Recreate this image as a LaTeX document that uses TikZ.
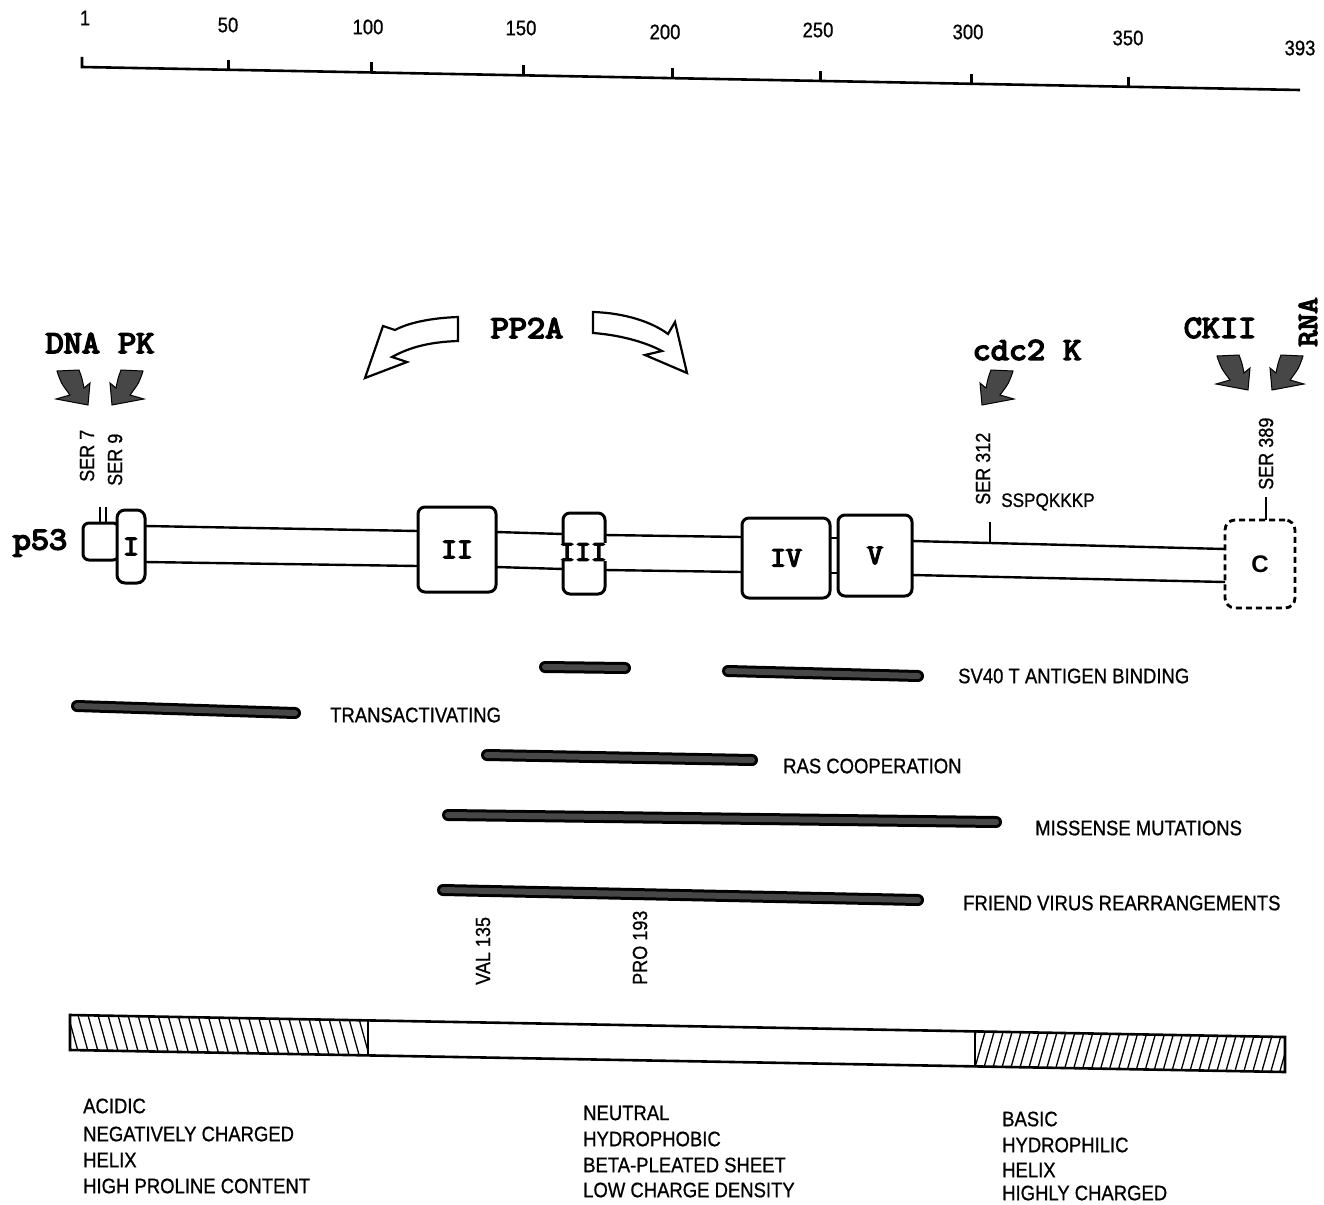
\documentclass[tikz,border=0pt]{standalone}
\usepackage{fontspec}
\setmainfont{Liberation Sans}
\newfontfamily\cond{Liberation Sans}[FakeStretch=0.88, FakeBold=0.8]
\newfontfamily\csfb{Liberation Sans}
\newfontfamily\bmono{Latin Modern Mono}[FakeBold=5, FakeStretch=1.1]
\tikzset{
  lab/.style={font=\cond\fontsize{21}{24}\selectfont, anchor=west, inner sep=0pt},
  vlab/.style={font=\cond\fontsize{20.5}{22}\selectfont, anchor=west, rotate=90, inner sep=0pt},
  scl/.style={font=\cond\fontsize{21}{23}\selectfont, inner sep=0pt},
  big/.style={font=\bmono\fontsize{32}{35}\selectfont, inner sep=0pt},
  dom/.style={draw, line width=3pt, rounded corners=7pt, fill=white, inner sep=0pt,
              font=\bmono\fontsize{28}{30}\selectfont},
  rod/.style={line width=2.4pt},
  barout/.style={line width=12pt, line cap=round, black},
  barin/.style={line width=6pt, line cap=round, black!72},
  hollow/.style={draw, fill=white, line width=2.2pt, line join=miter},
  fatR/.pic={\path[fill=black!72, draw=black, line width=1pt]
     (-31,-34) .. controls (-27,-22) .. (-18,-10) -- (-32,-6) -- (0,0) -- (2,-22)
     -- (-4,-17) .. controls (-6,-27) .. (-9,-35) -- cycle;},
  fatL/.pic={\path[fill=black!72, draw=black, line width=1pt]
     (31,-34) .. controls (27,-22) .. (18,-10) -- (32,-6) -- (0,0) -- (-2,-22)
     -- (4,-17) .. controls (6,-27) .. (9,-35) -- cycle;}
}
\begin{document}
\begin{tikzpicture}[x=1pt,y=-1pt]
\useasboundingbox (0,0) rectangle (1324,1204);
\fill[white] (0,0) rectangle (1324,1204);

% ---------- top scale ----------
\draw[line width=2.6pt] (82,57) -- (82,67) -- (1300,90);
\foreach \x/\y in {228/69.8,371/72.5,523/75.3,672/78.1,820/80.9,971/83.8,1128/86.7}
  \draw[line width=3pt] (\x,\y-10) -- (\x,\y);
\foreach \t/\x/\y in {1/85/18,50/228/25,100/368/27,150/521/28,200/665/32,250/818/30,300/968/32,350/1128/38,393/1300/48}
  \node[scl] (s\t) at (\x,\y) {\t};

% ---------- kinases ----------
\node[big] (dnapk) at (100,343) {DNA PK};
\pic (dnaA) at (88,405) {fatR};
\pic (pkA) at (112,405) {fatL};
\node[big] (pp2a) at (527,328) {PP2A};
\path[hollow] (458,317) .. controls (430,318) and (408,323) .. (395,330) -- (383,326)
   -- (365,378) -- (407,362) -- (392,357) .. controls (410,347) and (430,342) .. (458,341) -- cycle;
\path[hollow] (593,312) .. controls (625,313) and (652,322) .. (668,334) -- (675,322)
   -- (687,373) -- (645,355) -- (662,351) .. controls (645,342) and (620,335) .. (593,333) -- cycle;
\node[big] (cdc) at (1027,350) {cdc2 K};
\pic (cdcA) at (982,405) {fatL};
\node[big] (ck) at (1220,328) {CKII};
\node[big, rotate=90, font=\bmono\fontsize{29}{32}\selectfont] (rna) at (1308,322) {RNA};
\pic (ckA) at (1248,390) {fatR};
\pic (rnaA) at (1272,390) {fatL};

% ---------- site labels ----------
\node[vlab] (ser7) at (87,482) {SER 7};
\node[vlab] (ser9) at (115,486) {SER 9};
\node[vlab] (ser312) at (983,505) {SER 312};
\node[lab, font=\cond\fontsize{19.5}{22}\selectfont] (sspq) at (1001,502) {SSPQKKKP};
\node[vlab] (ser389) at (1266,490) {SER 389};

% ---------- p53 rod ----------
\node[big] (p53) at (40,543) {p53};
\draw[line width=2pt] (100,507) -- (100,524);
\draw[line width=2pt] (106,507) -- (106,524);
\node[dom, minimum width=36pt, minimum height=37pt, rounded corners=6pt] (nt) at (101,541.5) {};
\node[dom, minimum width=28pt, minimum height=73pt, rounded corners=8pt] (dI) at (131,546.5) {I};
\node[dom, minimum width=78pt, minimum height=85pt] (dII) at (457,549.5) {II};
\node[dom, minimum width=42pt, minimum height=81pt] (dIII) at (584,553.5) {};
\node[font=\bmono\fontsize{28}{30}\selectfont, fill=white, inner sep=0pt] (tIII) at (583,552) {III};
\node[dom, minimum width=88pt, minimum height=80pt] (dIV) at (786,558) {IV};
\node[dom, minimum width=74pt, minimum height=81pt] (dV) at (875,555.5) {V};
\node[draw, line width=2.8pt, rounded corners=10pt, dash pattern=on 6pt off 4pt,
      minimum width=70pt, minimum height=88pt, inner sep=0pt,
      font=\csfb\bfseries\fontsize{24}{26}\selectfont] (dC) at (1260,564) {C};

\draw[rod] (145,526) -- (418,531);  \draw[rod] (145,562) -- (418,566);
\draw[rod] (496,532) -- (563,534);  \draw[rod] (496,567) -- (563,569);
\draw[rod] (605,535) -- (742,537);  \draw[rod] (605,570) -- (742,572);
\draw[rod] (830,538) -- (838,538);  \draw[rod] (830,573) -- (838,573);
\draw[rod] (912,541) -- (1225,549); \draw[rod] (912,575) -- (1225,582);
\draw[line width=2.4pt] (990,522) -- (990,544);
\draw[line width=2.6pt] (1266,497) -- (1266,520);

% ---------- functional bars ----------
\foreach \a/\b/\c/\d in {545/667/625/668, 728/671/918/676, 77/706/295/713,
                         487/755/752/760, 448/815/996/822, 443/890/918/900}{
  \draw[barout] (\a,\b) -- (\c,\d);
  \draw[barin] (\a,\b) -- (\c,\d);
}
\node[lab] (sv40) at (958,676) {SV40 T ANTIGEN BINDING};
\node[lab] (trans) at (330,715) {TRANSACTIVATING};
\node[lab] (ras) at (783,766) {RAS COOPERATION};
\node[lab] (mis) at (1035,828) {MISSENSE MUTATIONS};
\node[lab] (fri) at (963,903) {FRIEND VIRUS REARRANGEMENTS};
\node[vlab] (val) at (483,985) {VAL 135};
\node[vlab] (pro) at (640,985) {PRO 193};

% ---------- bottom bar ----------
\begin{scope}
  \clip (70,1015) -- (368,1020.4) -- (368,1055.4) -- (70,1050) -- cycle;
  \foreach \x in {56,66,...,376} \draw[line width=1.3pt] (\x,1008) -- (\x+15,1062);
\end{scope}
\begin{scope}
  \clip (975,1031.4) -- (1285,1037) -- (1285,1072) -- (975,1066.4) -- cycle;
  \foreach \x in {978,987,...,1305} \draw[line width=1.3pt] (\x,1025) -- (\x-15,1078);
\end{scope}
\draw[line width=2.6pt] (70,1015) -- (1285,1037) -- (1285,1072) -- (70,1050) -- cycle;
\draw[line width=2.2pt] (368,1020.4) -- (368,1055.4);
\draw[line width=2.2pt] (975,1031.4) -- (975,1066.4);

% ---------- region texts ----------
\node[lab] (a1) at (83,1106) {ACIDIC};
\node[lab] (a2) at (83,1134) {NEGATIVELY CHARGED};
\node[lab] (a3) at (83,1160) {HELIX};
\node[lab] (a4) at (83,1186) {HIGH PROLINE CONTENT};
\node[lab] (n1) at (583,1113) {NEUTRAL};
\node[lab] (n2) at (583,1139) {HYDROPHOBIC};
\node[lab] (n3) at (583,1165) {BETA-PLEATED SHEET};
\node[lab] (n4) at (583,1190) {LOW CHARGE DENSITY};
\node[lab] (b1) at (1002,1119) {BASIC};
\node[lab] (b2) at (1002,1145) {HYDROPHILIC};
\node[lab] (b3) at (1002,1170) {HELIX};
\node[lab] (b4) at (1002,1193) {HIGHLY CHARGED};
\end{tikzpicture}
\end{document}
